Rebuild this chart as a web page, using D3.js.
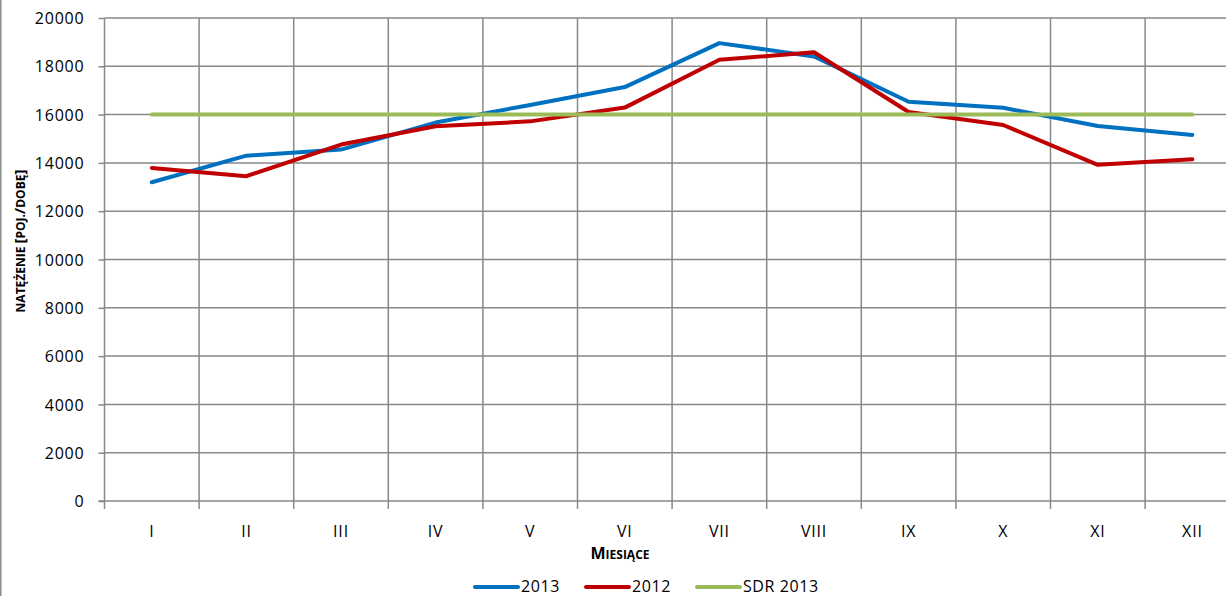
<!DOCTYPE html>
<html><head><meta charset="utf-8">
<script src="https://cdn.jsdelivr.net/npm/d3@7"></script>
<style>
body{margin:0;background:#fff;}
svg{display:block;}
text{font-family:"Open Sans",sans-serif;fill:#000;}
</style></head>
<body>
<svg id="c" width="1226" height="596"></svg>
<script>
const months = ["I","II","III","IV","V","VI","VII","VIII","IX","X","XI","XII"];
const s2013 = [13200,14300,14550,15670,16400,17140,18960,18410,16530,16280,15530,15160];
const s2012 = [13790,13450,14760,15520,15720,16290,18270,18580,16110,15570,13920,14150];
const sdr2013 = [16000,16000,16000,16000,16000,16000,16000,16000,16000,16000,16000,16000];
const yTicks = [0,2000,4000,6000,8000,10000,12000,14000,16000,18000,20000];
const seriesNames = ["2013","2012","SDR 2013"];
const seriesColors = ["#0070C0","#C00000","#9BBB59"];

const svg = d3.select("#c");
const pLeft = 104.5, pTop = 18, pBottom = 501, bw = 94.6;
const x = d3.scaleBand().domain(months).range([pLeft, pLeft + bw*months.length]);
const y = d3.scaleLinear().domain([0,20000]).range([pBottom, pTop]);
const grid = "#898989";
const pRight = pLeft + bw*months.length;

// border
svg.append("line").attr("x1",0.75).attr("x2",0.75).attr("y1",0).attr("y2",596).attr("stroke","#8c8c8c").attr("stroke-width",1.5);

// horizontal gridlines + y ticks
const yAxis = d3.axisLeft(y).tickValues(yTicks).tickSize(6).tickPadding(14).tickFormat(d3.format("d"));
const gy = svg.append("g").attr("transform",`translate(${pLeft},0)`).call(yAxis);
gy.selectAll("line").attr("stroke",grid).attr("stroke-width",1.5);
gy.select(".domain").attr("stroke",grid).attr("stroke-width",1.5).attr("d",`M0,${pTop}V${pBottom}`);
gy.selectAll("text").attr("font-size",16).attr("letter-spacing","0.8px").attr("dy","0.35em");
svg.append("g").selectAll("line").data(yTicks.filter(d=>d>0)).join("line")
  .attr("x1",pLeft).attr("x2",pRight)
  .attr("y1",d=>y(d)).attr("y2",d=>y(d))
  .attr("stroke",grid).attr("stroke-width",1.5);

// vertical gridlines at category boundaries
const bounds = months.map(m=>x(m)).concat([pRight]);
svg.append("g").selectAll("line").data(bounds.slice(1)).join("line")
  .attr("x1",d=>d).attr("x2",d=>d).attr("y1",pTop).attr("y2",pBottom)
  .attr("stroke",grid).attr("stroke-width",1.5);
// x axis
svg.append("line").attr("x1",pLeft-6).attr("x2",pRight).attr("y1",pBottom).attr("y2",pBottom)
  .attr("stroke",grid).attr("stroke-width",1.5);
svg.append("g").selectAll("line").data(bounds).join("line")
  .attr("x1",d=>d).attr("x2",d=>d).attr("y1",pBottom).attr("y2",pBottom+8)
  .attr("stroke",grid).attr("stroke-width",1.5);
svg.append("g").selectAll("text").data(months).join("text")
  .attr("x",d=>x(d)+x.bandwidth()/2).attr("y",pBottom+36)
  .attr("text-anchor","middle").attr("font-size",16).attr("letter-spacing","0.8px").text(d=>d);

// lines
const line = d3.line().x((d,i)=>x(months[i])+x.bandwidth()/2).y(d=>y(d));
[s2013,s2012,sdr2013].forEach((s,i)=>{
  svg.append("path").datum(s).attr("d",line).attr("fill","none")
    .attr("stroke",seriesColors[i]).attr("stroke-width",4)
    .attr("stroke-linejoin","round").attr("stroke-linecap","round");
});

// axis titles (small caps built from tspans)
const xt = svg.append("text").attr("x",620).attr("y",559).attr("text-anchor","middle").attr("font-weight","bold");
xt.append("tspan").attr("font-size",16).text("M");
xt.append("tspan").attr("font-size",12).text("IESIĄCE");

const yt = svg.append("text").attr("transform","translate(25,241) rotate(-90)").attr("text-anchor","middle").attr("font-weight","bold");
[["NATĘŻENIE ",12],["[",15],["POJ.",12],["/",15],["DOBĘ",12],["]",15]].forEach(([t,s])=>{
  yt.append("tspan").attr("font-size",s).text(t);
});

// legend
const legX = [475,586,697];
seriesNames.forEach((n,i)=>{
  svg.append("line").attr("x1",legX[i]).attr("x2",legX[i]+43).attr("y1",587).attr("y2",587)
    .attr("stroke",seriesColors[i]).attr("stroke-width",4).attr("stroke-linecap","round");
  svg.append("text").attr("x",legX[i]+46).attr("y",592).attr("font-size",16).attr("letter-spacing","0.6px").text(n);
});
</script>
</body></html>
